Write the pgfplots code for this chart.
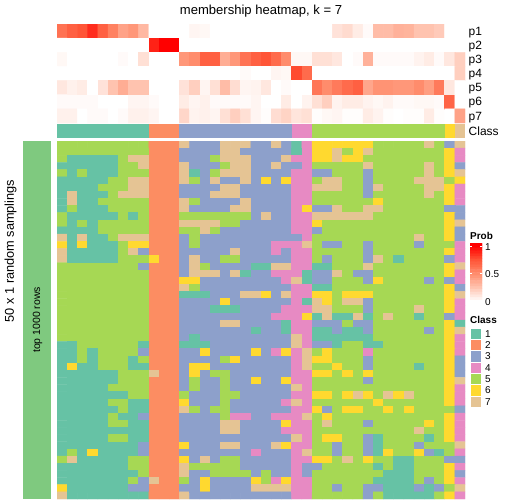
\documentclass[border=0pt]{standalone}
\usepackage{pgfplots}
\pgfplotsset{compat=1.18}
\usepackage{fontspec}
\setmainfont{Liberation Sans}
\definecolor{c1}{RGB}{102,194,165}
\definecolor{c2}{RGB}{252,141,98}
\definecolor{c3}{RGB}{141,160,203}
\definecolor{c4}{RGB}{231,138,195}
\definecolor{c5}{RGB}{166,216,84}
\definecolor{c6}{RGB}{255,217,47}
\definecolor{c7}{RGB}{229,196,148}
\definecolor{cbar}{RGB}{127,201,127}
\pgfplotsset{
  base/.style={scale only axis,hide axis,clip=true,enlargelimits=false},
  colormap={cls}{rgb255=(102,194,165) rgb255=(252,141,98) rgb255=(141,160,203) rgb255=(231,138,195) rgb255=(166,216,84) rgb255=(255,217,47) rgb255=(229,196,148)},
  colormap={prob}{rgb255=(255,255,255) rgb255=(255,195,175) rgb255=(255,140,108) rgb255=(255,85,55) rgb255=(255,0,0)}
}
\newcommand{\fs}[1]{\fontsize{#1}{#1}\selectfont}
\begin{document}
\begin{tikzpicture}[x=1bp,y=-1bp]
\path[fill=white] (0,0) rectangle (504,504);
% membership probabilities
\begin{axis}[base,at={(57bp,-123bp)},anchor=south west,width=408bp,height=99bp,
  xmin=-0.5,xmax=39.5,ymin=-0.5,ymax=6.5,y dir=reverse,
  colormap name=prob,point meta min=0,point meta max=1]
\addplot[matrix plot*,mesh/cols=40,point meta=explicit]
 table[row sep=\\,header=false,x expr={\coordindex-40*floor((\coordindex+0.5)/40)},y expr={floor((\coordindex+0.5)/40)},meta index=0]{%
.62\\.7\\.75\\.87\\.7\\.55\\.4\\.45\\.3\\0\\0\\0\\0\\.04\\.03\\0\\0\\0\\0\\0\\0\\0\\0\\0\\0\\0\\0\\.12\\.15\\.08\\.02\\.28\\.28\\.33\\.32\\.25\\.25\\.22\\0\\0\\%
0\\0\\0\\0\\0\\0\\0\\0\\0\\.9\\1\\1\\0\\0\\0\\0\\0\\0\\0\\0\\0\\0\\0\\0\\0\\0\\0\\0\\0\\0\\0\\0\\0\\0\\0\\0\\0\\0\\0\\0\\%
.03\\0\\0\\0\\0\\0\\.02\\0\\.13\\0\\0\\0\\.45\\.5\\.7\\.7\\.35\\.45\\.62\\.7\\.75\\.65\\.5\\.03\\.03\\.13\\.13\\.1\\0\\.02\\.33\\.02\\.02\\.02\\.02\\.05\\.08\\.02\\.1\\.2\\%
0\\0\\0\\0\\0\\0\\0\\0\\0\\0\\0\\0\\0\\0\\0\\0\\0\\0\\.02\\0\\0\\.04\\.03\\.78\\.65\\0\\0\\0\\0\\0\\0\\0\\0\\0\\0\\0\\0\\0\\0\\.2\\%
.1\\.06\\.08\\0\\.12\\.25\\.35\\.25\\.25\\0\\0\\0\\.12\\.2\\.04\\.13\\.28\\.14\\.04\\.05\\.1\\0\\.02\\0\\0\\.6\\.5\\.58\\.65\\.7\\.38\\.47\\.47\\.45\\.45\\.5\\.42\\.58\\.1\\0\\%
.02\\.02\\.02\\.02\\0\\0\\0\\.04\\.04\\.02\\0\\0\\.08\\.04\\.06\\.02\\.02\\.02\\.02\\.04\\0\\0\\.08\\0\\.05\\.13\\.2\\.05\\.08\\.08\\.05\\.03\\.05\\.02\\.02\\.03\\.03\\.02\\.68\\0\\%
.06\\.06\\0\\.02\\.02\\0\\.02\\.06\\.06\\.04\\0\\0\\.17\\.05\\.06\\.04\\.13\\.2\\.13\\.04\\.01\\.14\\.18\\.11\\.13\\.01\\.03\\.04\\.01\\.01\\.08\\.05\\.01\\0\\.01\\.01\\.08\\.01\\0\\.4\\%
};
\end{axis}
% class annotation
\begin{axis}[base,at={(57bp,-138bp)},anchor=south west,width=408bp,height=14bp,xmin=0,xmax=40,ymin=0,ymax=1]
\addplot[fill=c1,draw=none] coordinates {(0,0)(9,0)(9,1)(0,1)} --cycle;
\addplot[fill=c2,draw=none] coordinates {(9,0)(12,0)(12,1)(9,1)} --cycle;
\addplot[fill=c3,draw=none] coordinates {(12,0)(23,0)(23,1)(12,1)} --cycle;
\addplot[fill=c4,draw=none] coordinates {(23,0)(25,0)(25,1)(23,1)} --cycle;
\addplot[fill=c5,draw=none] coordinates {(25,0)(38,0)(38,1)(25,1)} --cycle;
\addplot[fill=c6,draw=none] coordinates {(38,0)(39,0)(39,1)(38,1)} --cycle;
\addplot[fill=c7,draw=none] coordinates {(39,0)(40,0)(40,1)(39,1)} --cycle;
\end{axis}
% left bar
\begin{axis}[base,at={(23bp,-499bp)},anchor=south west,width=28bp,height=358bp,xmin=0,xmax=1,ymin=0,ymax=1]
\addplot[fill=cbar,draw=none] coordinates {(0,0)(1,0)(1,1)(0,1)} --cycle;
\end{axis}
% main heatmap
\begin{axis}[base,at={(57bp,-499bp)},anchor=south west,width=408bp,height=358bp,
  xmin=-0.5,xmax=39.5,ymin=-0.5,ymax=49.5,y dir=reverse,
  colormap name=cls,colormap access=piecewise constant,point meta min=0.5,point meta max=7.5]
\addplot[matrix plot*,mesh/cols=40,point meta=explicit]
 table[row sep=\\,header=false,x expr={\coordindex-40*floor((\coordindex+0.5)/40)},y expr={floor((\coordindex+0.5)/40)},meta index=0]{%
5\\5\\5\\5\\5\\5\\5\\5\\5\\2\\2\\2\\7\\3\\3\\3\\7\\7\\7\\3\\3\\7\\3\\1\\4\\6\\6\\6\\6\\6\\6\\5\\5\\5\\5\\5\\7\\5\\3\\7\\%
5\\5\\5\\5\\5\\5\\5\\5\\5\\2\\2\\2\\3\\3\\3\\3\\7\\7\\3\\3\\3\\3\\3\\1\\4\\6\\6\\7\\5\\6\\7\\5\\5\\5\\5\\5\\5\\5\\6\\4\\%
5\\1\\1\\1\\1\\1\\5\\7\\7\\2\\2\\2\\3\\3\\3\\5\\7\\7\\7\\3\\3\\3\\7\\4\\4\\6\\6\\7\\6\\6\\5\\5\\5\\5\\5\\5\\5\\5\\6\\4\\%
1\\1\\1\\1\\1\\1\\5\\5\\7\\2\\2\\2\\7\\3\\3\\3\\5\\7\\7\\3\\3\\7\\3\\3\\4\\5\\5\\5\\5\\5\\7\\5\\5\\5\\5\\5\\7\\5\\6\\3\\%
5\\1\\5\\1\\1\\1\\5\\5\\5\\2\\2\\2\\7\\1\\3\\5\\7\\7\\7\\3\\3\\3\\3\\4\\4\\3\\3\\5\\5\\5\\3\\5\\5\\5\\5\\5\\7\\5\\6\\7\\%
1\\1\\1\\1\\1\\5\\5\\7\\7\\2\\2\\2\\7\\5\\3\\7\\3\\3\\7\\3\\6\\3\\6\\4\\4\\5\\7\\7\\5\\5\\3\\5\\5\\5\\5\\7\\7\\7\\5\\6\\%
1\\1\\1\\1\\5\\5\\5\\7\\7\\2\\2\\2\\3\\3\\3\\3\\7\\7\\3\\3\\3\\3\\3\\4\\4\\7\\7\\7\\5\\5\\3\\7\\5\\5\\5\\5\\7\\7\\6\\4\\%
1\\7\\1\\1\\1\\5\\7\\7\\7\\2\\2\\2\\3\\3\\3\\7\\7\\7\\3\\3\\3\\3\\3\\4\\4\\5\\5\\5\\5\\5\\3\\5\\5\\5\\5\\5\\7\\5\\6\\4\\%
1\\7\\1\\1\\5\\5\\5\\5\\5\\2\\2\\2\\7\\5\\3\\3\\3\\3\\7\\3\\3\\3\\3\\4\\4\\5\\5\\5\\5\\5\\5\\6\\5\\5\\5\\5\\5\\5\\6\\4\\%
1\\5\\1\\1\\1\\5\\5\\5\\5\\2\\2\\2\\7\\3\\3\\3\\3\\7\\7\\3\\3\\3\\3\\4\\6\\3\\3\\7\\5\\5\\7\\7\\5\\5\\5\\5\\5\\5\\3\\3\\%
5\\1\\1\\1\\1\\1\\5\\1\\5\\2\\2\\2\\5\\5\\5\\5\\5\\5\\5\\3\\7\\3\\3\\4\\4\\7\\7\\7\\7\\7\\7\\5\\5\\5\\5\\5\\5\\5\\6\\3\\%
5\\1\\5\\1\\5\\5\\5\\5\\5\\2\\2\\2\\7\\7\\7\\7\\5\\5\\3\\3\\3\\3\\3\\4\\4\\6\\5\\5\\5\\5\\5\\5\\5\\5\\5\\5\\5\\5\\6\\7\\%
1\\1\\1\\1\\5\\5\\5\\5\\5\\2\\2\\2\\5\\5\\7\\5\\3\\3\\3\\3\\3\\3\\3\\4\\4\\3\\5\\5\\5\\5\\5\\5\\5\\5\\5\\5\\5\\5\\6\\3\\%
7\\1\\7\\1\\1\\5\\7\\7\\7\\2\\2\\2\\3\\5\\3\\3\\3\\3\\3\\3\\3\\3\\3\\3\\4\\5\\5\\5\\5\\5\\5\\5\\5\\5\\5\\7\\5\\5\\6\\3\\%
6\\1\\6\\1\\1\\1\\5\\6\\6\\2\\2\\2\\3\\5\\3\\3\\3\\3\\3\\3\\3\\4\\4\\4\\7\\5\\3\\3\\5\\5\\3\\5\\5\\5\\5\\3\\5\\5\\5\\4\\%
7\\1\\1\\1\\1\\1\\5\\7\\3\\2\\2\\2\\3\\3\\3\\3\\3\\7\\3\\3\\3\\4\\3\\4\\4\\5\\5\\5\\5\\5\\3\\5\\5\\5\\5\\5\\5\\5\\6\\4\\%
7\\1\\1\\1\\1\\1\\5\\5\\5\\6\\2\\2\\3\\7\\3\\3\\5\\5\\3\\3\\3\\3\\3\\4\\4\\5\\3\\5\\5\\5\\3\\7\\5\\1\\5\\5\\5\\5\\3\\4\\%
5\\5\\5\\5\\5\\5\\5\\5\\3\\2\\2\\2\\3\\7\\5\\3\\3\\3\\3\\1\\1\\7\\7\\4\\4\\1\\1\\5\\5\\5\\7\\5\\5\\5\\5\\5\\5\\5\\6\\7\\%
5\\5\\5\\5\\5\\5\\5\\5\\5\\2\\2\\2\\3\\7\\7\\7\\3\\7\\1\\3\\3\\4\\4\\4\\1\\3\\3\\7\\5\\3\\3\\5\\5\\5\\5\\5\\5\\5\\6\\4\\%
5\\5\\5\\5\\5\\5\\5\\5\\5\\2\\2\\2\\6\\6\\3\\3\\3\\3\\3\\3\\3\\3\\4\\7\\1\\3\\3\\5\\5\\5\\3\\6\\5\\5\\5\\5\\3\\5\\3\\4\\%
5\\5\\5\\5\\5\\5\\5\\5\\5\\2\\2\\2\\7\\5\\3\\3\\3\\3\\3\\3\\3\\3\\3\\4\\4\\1\\1\\5\\5\\5\\5\\5\\5\\5\\5\\5\\5\\5\\6\\3\\%
5\\5\\5\\5\\5\\5\\5\\5\\5\\2\\2\\2\\1\\1\\1\\3\\3\\3\\7\\7\\6\\3\\7\\4\\4\\6\\6\\5\\6\\6\\6\\5\\5\\5\\5\\5\\5\\5\\6\\7\\%
5\\5\\5\\5\\5\\5\\5\\5\\5\\2\\2\\2\\3\\3\\3\\3\\6\\3\\3\\3\\3\\3\\3\\4\\1\\7\\6\\5\\7\\7\\3\\5\\5\\5\\5\\5\\5\\5\\6\\4\\%
5\\5\\5\\5\\5\\5\\5\\5\\5\\2\\2\\2\\3\\3\\3\\1\\1\\1\\3\\3\\3\\3\\4\\4\\4\\7\\7\\5\\5\\5\\3\\5\\5\\5\\5\\7\\5\\5\\6\\4\\%
5\\5\\5\\5\\5\\5\\5\\5\\5\\2\\2\\2\\3\\3\\3\\3\\3\\3\\3\\3\\3\\4\\4\\4\\6\\1\\7\\1\\1\\7\\1\\5\\7\\5\\5\\1\\5\\5\\3\\4\\%
5\\5\\5\\5\\5\\5\\5\\5\\5\\2\\2\\2\\3\\3\\3\\3\\7\\7\\3\\3\\3\\3\\1\\4\\4\\3\\3\\3\\5\\3\\3\\5\\5\\5\\5\\5\\5\\5\\6\\1\\%
5\\5\\5\\5\\5\\5\\5\\5\\5\\2\\2\\2\\3\\3\\3\\3\\3\\3\\3\\1\\3\\3\\1\\4\\4\\1\\1\\3\\1\\1\\3\\5\\5\\5\\5\\5\\3\\5\\6\\7\\%
5\\5\\5\\5\\5\\5\\5\\5\\5\\2\\2\\2\\3\\1\\3\\3\\3\\3\\3\\3\\3\\3\\3\\7\\4\\1\\1\\1\\1\\1\\1\\5\\5\\5\\5\\5\\5\\5\\6\\4\\%
1\\1\\5\\5\\5\\5\\5\\5\\1\\2\\2\\2\\1\\1\\1\\3\\3\\3\\3\\3\\3\\3\\3\\7\\4\\3\\3\\1\\5\\5\\1\\1\\5\\5\\5\\5\\5\\5\\6\\4\\%
1\\1\\5\\1\\5\\5\\5\\5\\3\\2\\2\\2\\3\\3\\6\\3\\3\\3\\3\\6\\3\\4\\6\\4\\7\\5\\6\\5\\5\\5\\4\\5\\5\\5\\5\\5\\5\\5\\6\\4\\%
1\\1\\5\\1\\5\\5\\5\\1\\5\\2\\2\\2\\3\\3\\3\\3\\5\\6\\3\\3\\3\\3\\3\\4\\7\\6\\6\\5\\5\\5\\3\\5\\5\\5\\5\\5\\5\\5\\6\\3\\%
1\\6\\1\\1\\5\\5\\5\\1\\1\\2\\2\\2\\3\\6\\6\\3\\3\\3\\3\\3\\3\\3\\3\\4\\7\\5\\5\\6\\5\\5\\3\\5\\5\\5\\5\\1\\5\\5\\6\\3\\%
1\\1\\1\\1\\1\\1\\5\\5\\5\\7\\2\\2\\3\\6\\3\\5\\5\\3\\3\\3\\3\\3\\3\\4\\4\\6\\6\\5\\6\\5\\6\\5\\5\\5\\5\\5\\5\\5\\6\\3\\%
1\\1\\1\\1\\1\\1\\5\\5\\5\\2\\2\\2\\3\\5\\3\\3\\5\\3\\3\\6\\3\\3\\6\\4\\4\\5\\5\\5\\5\\5\\3\\5\\5\\5\\5\\5\\5\\5\\6\\7\\%
1\\1\\1\\1\\1\\5\\5\\5\\5\\2\\2\\2\\3\\5\\3\\3\\5\\3\\3\\3\\3\\3\\3\\7\\4\\5\\5\\5\\5\\5\\5\\5\\5\\5\\5\\5\\5\\5\\6\\4\\%
1\\1\\1\\1\\1\\1\\1\\5\\5\\2\\2\\2\\5\\3\\3\\3\\5\\5\\3\\3\\3\\3\\3\\4\\4\\6\\6\\5\\6\\7\\6\\5\\7\\6\\7\\5\\5\\5\\6\\4\\%
1\\1\\1\\1\\1\\5\\5\\1\\1\\2\\2\\2\\6\\3\\3\\3\\5\\3\\3\\3\\3\\3\\4\\7\\4\\5\\5\\5\\5\\5\\5\\6\\5\\5\\5\\5\\5\\5\\6\\4\\%
1\\1\\1\\1\\1\\1\\5\\1\\1\\2\\2\\2\\7\\5\\3\\5\\5\\3\\3\\3\\3\\3\\3\\4\\4\\6\\3\\5\\6\\6\\5\\5\\6\\5\\6\\5\\5\\5\\5\\3\\%
1\\1\\1\\1\\1\\5\\1\\1\\3\\2\\2\\2\\3\\3\\3\\3\\5\\4\\4\\3\\3\\4\\4\\4\\7\\5\\6\\5\\5\\5\\5\\5\\5\\5\\5\\5\\5\\5\\6\\4\\%
1\\1\\1\\1\\1\\5\\5\\1\\1\\2\\2\\2\\3\\3\\3\\3\\7\\7\\3\\3\\3\\3\\6\\4\\4\\5\\7\\5\\5\\5\\3\\5\\5\\5\\5\\5\\6\\5\\6\\4\\%
1\\1\\1\\1\\1\\1\\1\\1\\1\\2\\2\\2\\3\\3\\3\\3\\7\\7\\3\\3\\3\\3\\4\\4\\4\\5\\5\\5\\5\\5\\5\\5\\5\\5\\5\\7\\5\\5\\6\\4\\%
1\\1\\1\\1\\1\\5\\5\\1\\1\\2\\2\\2\\3\\3\\3\\3\\3\\3\\3\\3\\3\\3\\3\\7\\4\\5\\6\\6\\5\\5\\3\\1\\5\\5\\5\\5\\1\\5\\6\\4\\%
1\\1\\1\\1\\1\\1\\1\\1\\3\\2\\2\\2\\6\\3\\3\\3\\7\\7\\3\\3\\3\\7\\6\\4\\4\\5\\5\\3\\5\\5\\3\\1\\5\\5\\5\\3\\5\\5\\5\\7\\%
1\\5\\1\\6\\1\\1\\1\\1\\3\\2\\2\\2\\3\\3\\3\\3\\3\\3\\3\\4\\3\\3\\3\\4\\7\\5\\5\\3\\5\\5\\3\\1\\6\\5\\5\\6\\3\\1\\5\\4\\%
5\\7\\1\\1\\1\\1\\1\\5\\5\\2\\2\\2\\6\\3\\7\\3\\5\\5\\3\\3\\3\\3\\3\\4\\4\\6\\6\\5\\7\\5\\6\\5\\5\\1\\1\\5\\5\\5\\3\\3\\%
1\\1\\1\\1\\1\\1\\1\\5\\5\\2\\2\\2\\7\\5\\5\\5\\5\\5\\3\\3\\3\\3\\3\\4\\3\\3\\5\\5\\5\\5\\5\\1\\5\\1\\1\\5\\5\\5\\6\\4\\%
1\\1\\1\\1\\1\\1\\1\\1\\5\\2\\2\\2\\7\\3\\3\\5\\5\\5\\5\\3\\5\\3\\3\\4\\3\\5\\5\\5\\5\\5\\5\\5\\1\\1\\1\\5\\5\\5\\6\\3\\%
1\\1\\1\\1\\1\\1\\1\\5\\3\\7\\2\\2\\5\\3\\6\\3\\3\\3\\3\\6\\5\\4\\6\\4\\4\\5\\5\\5\\5\\5\\5\\1\\1\\1\\1\\5\\3\\5\\6\\4\\%
6\\1\\1\\1\\1\\1\\1\\3\\3\\2\\2\\2\\3\\3\\6\\3\\3\\3\\3\\7\\7\\7\\7\\4\\4\\5\\5\\3\\5\\5\\3\\3\\1\\1\\1\\3\\1\\3\\5\\7\\%
7\\1\\1\\1\\1\\1\\1\\1\\1\\2\\2\\2\\7\\3\\3\\3\\3\\3\\3\\3\\3\\3\\3\\4\\4\\5\\5\\5\\5\\5\\3\\5\\1\\1\\1\\1\\1\\5\\6\\4\\%
};
\end{axis}
% colour bar of Prob
\begin{axis}[base,at={(470bp,-301bp)},anchor=south west,width=12bp,height=58bp,
  xmin=-0.5,xmax=1.5,ymin=0,ymax=1.06,
  colormap name=prob,point meta min=0,point meta max=1]
\addplot[matrix plot*,mesh/cols=2,point meta=explicit] table[x=x,y=y,meta=c]{
x y c
0 -0.05 0
1 -0.05 0
0 0 0
1 0 0
0 .05 .05
1 .05 .05
0 .1 .1
1 .1 .1
0 .15 .15
1 .15 .15
0 .2 .2
1 .2 .2
0 .25 .25
1 .25 .25
0 .3 .3
1 .3 .3
0 .35 .35
1 .35 .35
0 .4 .4
1 .4 .4
0 .45 .45
1 .45 .45
0 .5 .5
1 .5 .5
0 .55 .55
1 .55 .55
0 .6 .6
1 .6 .6
0 .65 .65
1 .65 .65
0 .7 .7
1 .7 .7
0 .75 .75
1 .75 .75
0 .8 .8
1 .8 .8
0 .85 .85
1 .85 .85
0 .9 .9
1 .9 .9
0 .95 .95
1 .95 .95
0 1 1
1 1 1
0 1.05 1
1 1.05 1
0 1.1 1
1 1.1 1
};
\addplot[white,line width=0.6pt] coordinates {(-0.5,1)(-0.15,1)};
\addplot[white,line width=0.6pt] coordinates {(1.15,1)(1.5,1)};
\addplot[white,line width=0.6pt] coordinates {(-0.5,.5)(-0.15,.5)};
\addplot[white,line width=0.6pt] coordinates {(1.15,.5)(1.5,.5)};
\end{axis}
% Class legend squares
\begin{axis}[base,at={(470bp,-407.4bp)},anchor=south west,width=11.34bp,height=79.4bp,
  xmin=0,xmax=1,ymin=0,ymax=7,y dir=reverse]
\addplot[fill=c1,draw=white,line width=0.6pt] coordinates {(0,0)(1,0)(1,1)(0,1)} --cycle;
\addplot[fill=c2,draw=white,line width=0.6pt] coordinates {(0,1)(1,1)(1,2)(0,2)} --cycle;
\addplot[fill=c3,draw=white,line width=0.6pt] coordinates {(0,2)(1,2)(1,3)(0,3)} --cycle;
\addplot[fill=c4,draw=white,line width=0.6pt] coordinates {(0,3)(1,3)(1,4)(0,4)} --cycle;
\addplot[fill=c5,draw=white,line width=0.6pt] coordinates {(0,4)(1,4)(1,5)(0,5)} --cycle;
\addplot[fill=c6,draw=white,line width=0.6pt] coordinates {(0,5)(1,5)(1,6)(0,6)} --cycle;
\addplot[fill=c7,draw=white,line width=0.6pt] coordinates {(0,6)(1,6)(1,7)(0,7)} --cycle;
\end{axis}
% texts
\tikzset{t/.style={inner sep=0pt,text=black}}
\node[t,anchor=center,font=\fs{13.1}] at (261bp,-11bp) {membership heatmap, k = 7};
\foreach \n/\y in {p1/32.5,p2/46.6,p3/60.8,p4/74.9,p5/89.1,p6/103.2,p7/117.4,Class/132.5}{
  \node[t,anchor=mid west,font=\fs{12}] at (468.5bp,-\y bp) {\n};
}
\node[t,anchor=center,rotate=90,font=\fs{12.8}] at (10.5bp,-251bp) {50 x 1 random samplings};
\node[t,anchor=center,rotate=90,font=\fs{10.5}] at (37.5bp,-320bp) {top 1000 rows};
\node[t,anchor=mid west,font=\bfseries\fs{10}] at (470bp,-236.5bp) {Prob};
\node[t,anchor=mid west,font=\bfseries\fs{10}] at (470bp,-320.5bp) {Class};
\foreach \n/\y in {1/247.5,0.5/274.8,0/303}{
  \node[t,anchor=mid west,font=\fs{10}] at (485bp,-\y bp) {\n};
}
\foreach \n/\y in {1/334.5,2/345.8,3/357.2,4/368.5,5/379.9,6/391.2,7/402.5}{
  \node[t,anchor=mid west,font=\fs{10}] at (485bp,-\y bp) {\n};
}
\end{tikzpicture}
\end{document}
